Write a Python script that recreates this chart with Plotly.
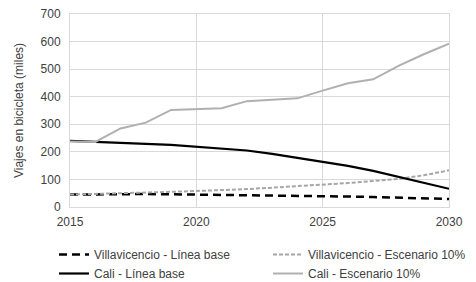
import plotly.graph_objects as go

years = list(range(2015, 2031))
villa_base = [45, 46, 47, 47, 46, 45, 45, 44, 43, 42, 40, 38, 36, 34, 32, 29]
villa_esc = [45, 47, 50, 52, 55, 58, 61, 65, 70, 75, 81, 87, 94, 102, 115, 133]
cali_base = [240, 237, 233, 229, 225, 219, 213, 205, 193, 179, 164, 149, 131, 110, 88, 66]
cali_esc = [238, 236, 285, 306, 352, 355, 358, 384, 388, 394, 422, 449, 463, 512, 554, 592]

y_ticks = [0, 100, 200, 300, 400, 500, 600, 700]
x_ticks = [2015, 2020, 2025, 2030]

W, H = 476, 282
OFF = 8  # default page body margin offsets the figure in the window
L, R, T, B = 70 - OFF, 27 + OFF, 14 - OFF, 75 + OFF
PW, PH = W - L - R, H - T - B

fig = go.Figure()
fig.add_trace(go.Scatter(x=years, y=villa_base, mode="lines", name="Villavicencio - Línea base",
                         line=dict(color="black", width=2.5, dash="8px,5px")))
fig.add_trace(go.Scatter(x=years, y=villa_esc, mode="lines", name="Villavicencio - Escenario 10%",
                         line=dict(color="#a6a6a6", width=2, dash="4px,2px")))
fig.add_trace(go.Scatter(x=years, y=cali_base, mode="lines", name="Cali - Línea base",
                         line=dict(color="black", width=2.2)))
fig.add_trace(go.Scatter(x=years, y=cali_esc, mode="lines", name="Cali - Escenario 10%",
                         line=dict(color="#b0b0b0", width=2)))

fig.update_layout(
    width=W, height=H,
    margin=dict(l=L, r=R, t=T, b=B, autoexpand=False),
    paper_bgcolor="white", plot_bgcolor="white",
    font=dict(family="Liberation Sans, Arial, sans-serif", size=12, color="#404040"),
    legend=dict(orientation="h", x=(46 - L) / PW, y=-(232 - (H - B)) / PH,
                xanchor="left", yanchor="top", entrywidth=169, entrywidthmode="pixels",
                traceorder="normal", font=dict(size=12, color="#404040"),
                bgcolor="rgba(0,0,0,0)", borderwidth=0, itemwidth=30, tracegroupgap=0),
    showlegend=True,
)
fig.update_xaxes(range=[2015, 2030], tickvals=x_ticks, showgrid=True, gridcolor="#d9d9d9",
                 zeroline=False, showline=True, linecolor="#d9d9d9", mirror=True, ticks="",
                 ticklabelstandoff=4, ticklabeloverflow="allow",
                 tickfont=dict(size=12, color="#404040"))
fig.update_yaxes(range=[0, 700], tickvals=y_ticks, showgrid=True, gridcolor="#d9d9d9",
                 zeroline=False, showline=True, linecolor="#d9d9d9", mirror=True, ticks="",
                 ticklabelstandoff=6, ticklabeloverflow="allow",
                 title=dict(text="Viajes en bicicleta (miles)", font=dict(size=12, color="#404040"), standoff=14),
                 tickfont=dict(size=12, color="#404040"))

fig.write_html("out.html", config={"displayModeBar": False})
